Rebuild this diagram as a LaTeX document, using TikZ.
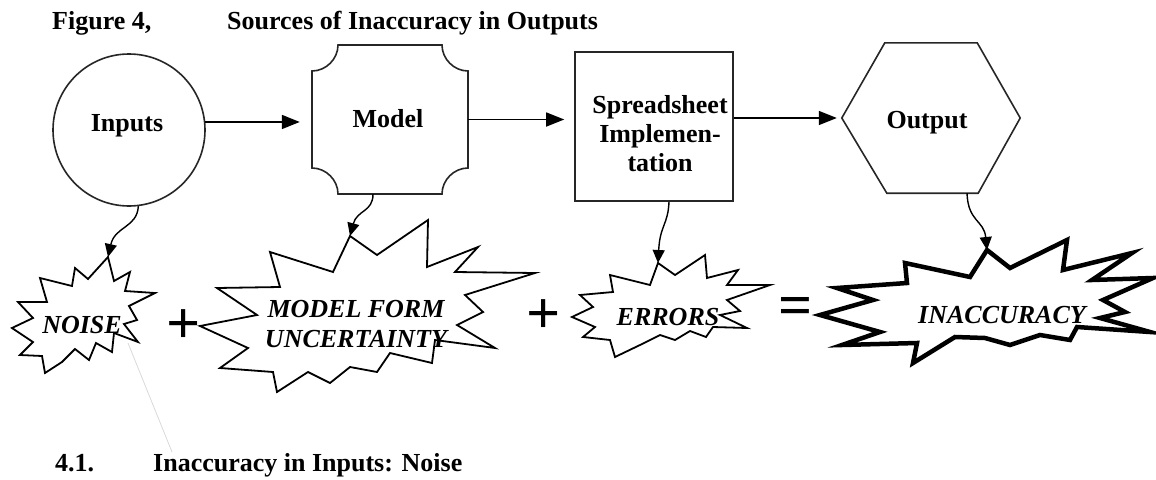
\documentclass[tikz,border=0pt]{standalone}
\usepackage{fontspec}
\setmainfont{Liberation Serif}
\usetikzlibrary{arrows.meta,calc}
\begin{document}
\begin{tikzpicture}[x=1pt,y=-1pt, line join=miter,
  lbl/.style={font=\fontsize{26}{29}\selectfont\bfseries, inner sep=0pt},
  slbl/.style={font=\fontsize{26}{30}\selectfont\bfseries\itshape, inner sep=0pt},
  shp/.style={draw=black!85, line width=1.6pt},
  harr/.style={-{Triangle[length=18pt,width=14pt]}, line width=1.6pt},
  carr/.style={-{Triangle[length=13pt,width=12pt]}, line width=1.4pt},
  burst/.style={draw, line width=1.8pt, fill=white},
  bigburst/.style={draw, line width=4.5pt, fill=white},
  opsym/.style={font=\fontsize{60}{60}\selectfont\bfseries, inner sep=0pt}]
\useasboundingbox (0,0) rectangle (1156,479);

% headings
\node[lbl, anchor=base west] (fig) at (52,29) {Figure 4,};
\node[lbl, anchor=base west] (title) at (227,29) {Sources of Inaccuracy in Outputs};
\node[lbl, anchor=base west] (secnum) at (55,471) {4.1.};
\node[lbl, anchor=base west] (sectitle) at (153,471) {Inaccuracy in Inputs: Noise};

% faint scan line
\draw[gray!30, line width=0.8pt] (128,343) -- (172,452);

% top row shapes
\node[shp, circle, minimum size=152pt, inner sep=0pt] (inputs) at (129,130) {};
\node[lbl, anchor=base] (inputstext) at (127,131) {Inputs};

\node[minimum width=156pt, minimum height=149pt, inner sep=0pt] (model) at (390,119.5) {};
\draw[shp] (338,45) -- (442,45) .. controls (442,59) and (454,71) .. (468,71)
  -- (468,168) .. controls (454,168) and (442,180) .. (442,194)
  -- (338,194) .. controls (338,180) and (326,168) .. (312,168)
  -- (312,71) .. controls (326,71) and (338,59) .. (338,45) -- cycle;
\node[lbl, anchor=base] (modeltext) at (388,127) {Model};

\node[shp, rectangle, minimum width=158pt, minimum height=149pt, inner sep=0pt] (spread) at (654,126.5) {};
\node[lbl, align=center] (spreadtext) at (660,134) {Spreadsheet\\Implemen-\\tation};

\node[minimum width=178pt, minimum height=150pt, inner sep=0pt] (output) at (931,118) {};
\draw[shp] (output.west) -- ($(output.north west)+(43,0)$) -- ($(output.north east)+(-43,0)$)
  -- (output.east) -- ($(output.south east)+(-42,0)$) -- ($(output.south west)+(45,0)$) -- cycle;
\node[lbl, anchor=base] (outputtext) at (927,128) {Output};

% horizontal arrows
\draw[harr, shorten >=12pt] (inputs.6) -- (inputs.6 -| model.west);
\draw[harr, shorten >=10pt] (model.east) -- (spread.west |- model.east);
\draw[harr, shorten >=5pt] (spread.east |- output.west) -- (output.west);

% star tips
\coordinate (noisetop) at (108,257);
\coordinate (mfutop) at (350,236);
\coordinate (errtop) at (658,263);
\coordinate (inacctop) at (987,250);

% bursts
\draw[burst] (noisetop) -- (114,281) -- (130,272) -- (125,291) -- (155,293) -- (129,306)
  -- (137,320) -- (124,324) -- (138,342) -- (114,333) -- (112,352) -- (96,343)
  -- (89,360) -- (75,349) -- (62,362) -- (45,373) -- (42,356) -- (20,355)
  -- (33,342) -- (12,328) -- (33,318) -- (18,302) -- (47,302) -- (40,278)
  -- (72,286) -- (75,268) -- (88,279) -- cycle;

\draw[burst] (mfutop) -- (377,255) -- (428,220) -- (427,267) -- (478,247) -- (455,272)
  -- (535,273) -- (465,295) -- (483,312) -- (457,325) -- (495,348) -- (435,340)
  -- (432,363) -- (390,353) -- (377,372) -- (350,367) -- (330,383) -- (308,372)
  -- (277,392) -- (273,372) -- (220,368) -- (248,348) -- (200,326) -- (257,315)
  -- (217,288) -- (280,287) -- (270,252) -- (333,272) -- cycle;

\draw[burst] (errtop) -- (675,275) -- (705,255) -- (707,278) -- (738,270) -- (727,285)
  -- (770,285) -- (727,300) -- (740,311) -- (720,315) -- (747,328) -- (713,327)
  -- (706,337) -- (690,331) -- (675,340) -- (660,335) -- (640,345) -- (615,357)
  -- (610,340) -- (583,337) -- (595,327) -- (572,317) -- (593,307) -- (580,295)
  -- (613,292) -- (610,275) -- (650,285) -- cycle;

\draw[bigburst] (inacctop) -- (1010,268) -- (1067,240) -- (1063,270) -- (1132,253)
  -- (1092,280) -- (1153,278) -- (1103,300) -- (1125,312) -- (1100,318) -- (1150,332)
  -- (1077,327) -- (1070,340) -- (1040,335) -- (1010,345) -- (985,338) -- (955,337)
  -- (913,363) -- (917,343) -- (842,345) -- (880,332) -- (820,315) -- (873,300)
  -- (837,288) -- (907,283) -- (905,263) -- (970,277) -- cycle;

% burst labels
\node[slbl, anchor=base] (noise) at (82,333) {NOISE};
\node[slbl, align=center] (mfu) at (356,324) {MODEL FORM\\UNCERTAINTY};
\node[slbl, anchor=base] (errors) at (668,325) {ERRORS};
\node[slbl, anchor=base] (inacc) at (1002,323) {INACCURACY};

% curved arrows
\draw[carr] (inputs.-83) .. controls (137,228) and (115,226) .. (noisetop);
\draw[carr] ($(model.south)+(-17,0)$) .. controls (373,212) and (357,210) .. (mfutop);
\draw[carr] ($(spread.south)+(15,0)$) .. controls (668,225) and (660,225) .. (errtop);
\draw[carr] ($(output.south)+(36,0)$) .. controls (968,222) and (984,220) .. (inacctop);

% operators
\node[opsym] (plusa) at (184,327) {+};
\node[opsym] (plusb) at (544,317) {+};
\node[opsym] (equals) at (796,311) {=};
\end{tikzpicture}
\end{document}
